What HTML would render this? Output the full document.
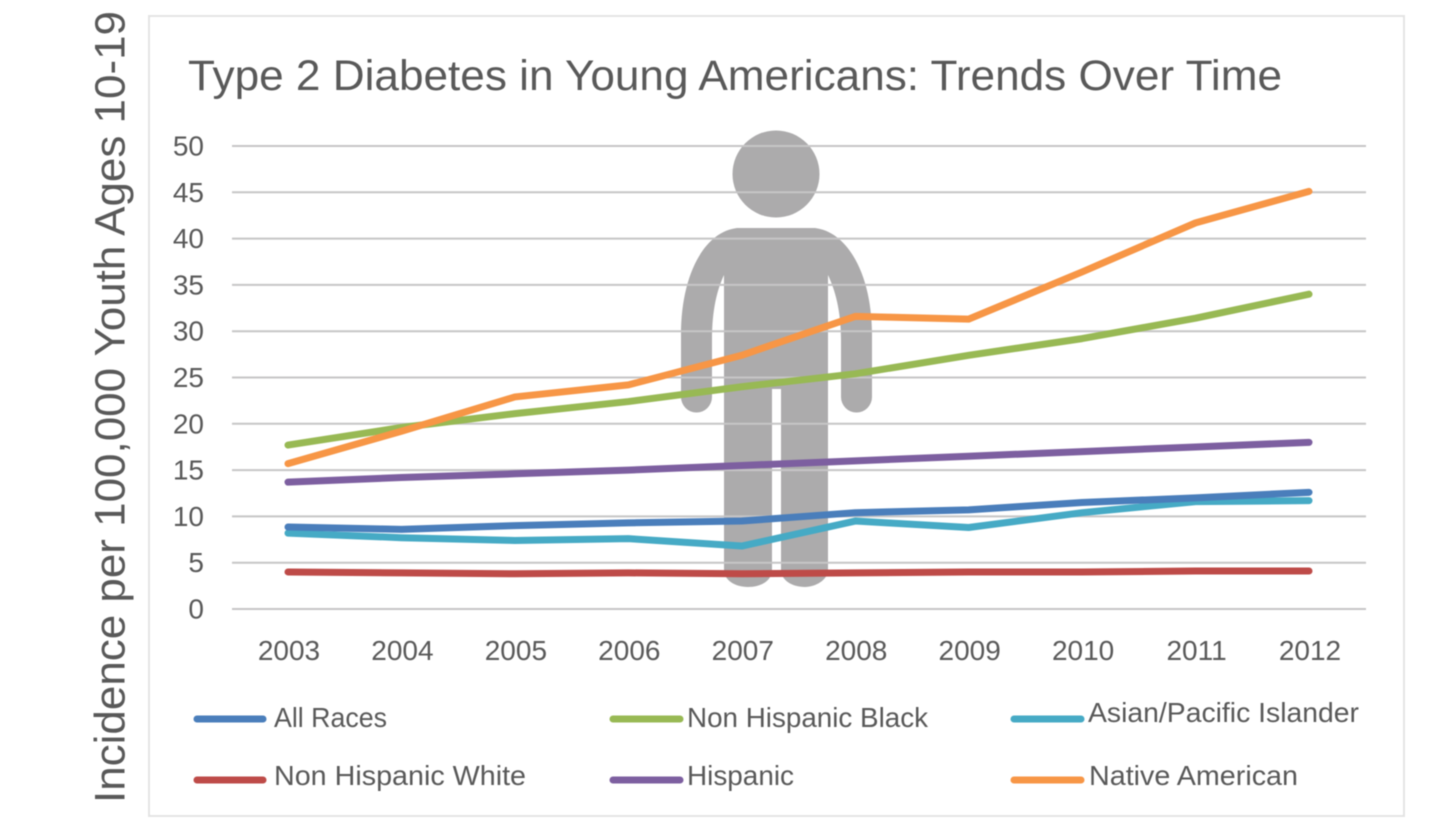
<!DOCTYPE html>
<html lang="en">
<head>
<meta charset="utf-8">
<title>Type 2 Diabetes in Young Americans</title>
<style>
html,body{margin:0;padding:0;background:#fff;width:1456px;height:829px;overflow:hidden}
svg{display:block;font-family:"Liberation Sans",sans-serif;filter:blur(0.4px)}
text{fill:#595959}
</style>
</head>
<body>
<svg id="chart" xmlns="http://www.w3.org/2000/svg" width="1456" height="829" viewBox="0 0 1456 829">
  <rect x="149" y="16" width="1255" height="800" fill="#fff" stroke="#e4e4e4" stroke-width="2"/>
  <text x="188" y="90" font-size="43" textLength="1094" lengthAdjust="spacingAndGlyphs">Type 2 Diabetes in Young Americans: Trends Over Time</text>
  <text transform="translate(124.5,803) rotate(-90)" x="0" y="0" font-size="43" textLength="792" lengthAdjust="spacingAndGlyphs">Incidence per 100,000 Youth Ages 10-19</text>

  <g fill="#acabac">
    <circle cx="776" cy="174" r="43.5"/>
    <path d="M737 228H815C848 232 872 275 872 335V397A15.5 15.5 0 0 1 841 397V340C841 310 835 290 828 275V570C828 580 815 587 805 587C792 587 781 580 781 570V389H772V570C772 580 762 587 748 587C735 587 724 580 724 570V275C717 290 712 310 712 340V397A15 15 0 0 1 681 397V335C681 275 704 232 737 228Z"/>
  </g>

  <g id="grid"></g>
  <g id="yticks"></g>
  <g id="xticks"></g>
  <g id="series"></g>

  <g font-size="28">
    <g>
      <line x1="197" y1="719" x2="263" y2="719" stroke="#4a7ebb" stroke-width="7" stroke-linecap="round"/>
      <text x="274" y="727" textLength="113" lengthAdjust="spacingAndGlyphs">All Races</text>
    </g>
    <g>
      <line x1="613" y1="719" x2="680" y2="719" stroke="#98b954" stroke-width="7" stroke-linecap="round"/>
      <text x="687" y="727" textLength="241" lengthAdjust="spacingAndGlyphs">Non Hispanic Black</text>
    </g>
    <g>
      <line x1="1014" y1="719" x2="1081" y2="719" stroke="#46aac5" stroke-width="7" stroke-linecap="round"/>
      <text x="1088" y="722" textLength="271" lengthAdjust="spacingAndGlyphs">Asian/Pacific Islander</text>
    </g>
    <g>
      <line x1="197" y1="780" x2="263" y2="780" stroke="#be4b48" stroke-width="7" stroke-linecap="round"/>
      <text x="274" y="785" textLength="252" lengthAdjust="spacingAndGlyphs">Non Hispanic White</text>
    </g>
    <g>
      <line x1="613" y1="780" x2="680" y2="780" stroke="#7d5fa0" stroke-width="7" stroke-linecap="round"/>
      <text x="687" y="785" textLength="107" lengthAdjust="spacingAndGlyphs">Hispanic</text>
    </g>
    <g>
      <line x1="1014" y1="780" x2="1081" y2="780" stroke="#f79646" stroke-width="7" stroke-linecap="round"/>
      <text x="1089" y="785" textLength="209" lengthAdjust="spacingAndGlyphs">Native American</text>
    </g>
  </g>
</svg>
<script>
const years = ["2003","2004","2005","2006","2007","2008","2009","2010","2011","2012"];
const yTickValues = [0,5,10,15,20,25,30,35,40,45,50];
const nonHispanicWhite = [4.0,3.9,3.8,3.9,3.8,3.9,4.0,4.0,4.1,4.1];
const asianPacificIslander = [8.2,7.7,7.4,7.6,6.8,9.5,8.8,10.4,11.6,11.7];
const allRaces = [8.85,8.6,9.0,9.3,9.5,10.4,10.7,11.5,12.0,12.6];
const hispanic = [13.7,14.2,14.6,15.0,15.5,16.0,16.5,17.0,17.5,18.0];
const nonHispanicBlack = [17.7,19.6,21.1,22.4,24.0,25.4,27.4,29.2,31.4,34.0];
const nativeAmerican = [15.7,19.2,22.9,24.2,27.4,31.6,31.3,36.4,41.7,45.1];

const NS = "http://www.w3.org/2000/svg";
function xScale(i){ return 288 + i * (1309 - 288) / (years.length - 1); }
function yScale(v){ return 609 - v * (609 - 146) / 50; }

const gridGroup = document.getElementById("grid");
const yTickGroup = document.getElementById("yticks");
const xTickGroup = document.getElementById("xticks");
const seriesGroup = document.getElementById("series");

yTickValues.forEach(function(v){
  const line = document.createElementNS(NS, "line");
  
  
  line.setAttribute("x1", 232);
  line.setAttribute("x2", 1366);
  line.setAttribute("y1", yScale(v));
  line.setAttribute("y2", yScale(v));
  line.setAttribute("stroke", "#c6c5c6");
  line.setAttribute("stroke-width", 2);
  gridGroup.appendChild(line);

  const label = document.createElementNS(NS, "text");
  
  
  label.setAttribute("x", 204);
  label.setAttribute("y", yScale(v) + 9.5);
  label.setAttribute("text-anchor", "end");
  label.setAttribute("font-size", 28);
  label.textContent = String(v);
  yTickGroup.appendChild(label);
});

years.forEach(function(year, i){
  const label = document.createElementNS(NS, "text");
  
  
  label.setAttribute("x", xScale(i) + 1);
  label.setAttribute("y", 660);
  label.setAttribute("text-anchor", "middle");
  label.setAttribute("font-size", 28);
  label.textContent = year;
  xTickGroup.appendChild(label);
});

function drawSeries(values, color, name){
  const path = document.createElementNS(NS, "polyline");
  
  
  path.setAttribute("points", values.map(function(v, i){ return xScale(i) + "," + yScale(v); }).join(" "));
  path.setAttribute("fill", "none");
  path.setAttribute("stroke", color);
  path.setAttribute("stroke-width", 7);
  path.setAttribute("stroke-linecap", "round");
  path.setAttribute("stroke-linejoin", "round");
  seriesGroup.appendChild(path);
}
drawSeries(nonHispanicWhite, "#be4b48", "line-non-hispanic-white");
drawSeries(asianPacificIslander, "#46aac5", "line-asian-pacific-islander");
drawSeries(allRaces, "#4a7ebb", "line-all-races");
drawSeries(hispanic, "#7d5fa0", "line-hispanic");
drawSeries(nonHispanicBlack, "#98b954", "line-non-hispanic-black");
drawSeries(nativeAmerican, "#f79646", "line-native-american");
</script>
</body>
</html>
